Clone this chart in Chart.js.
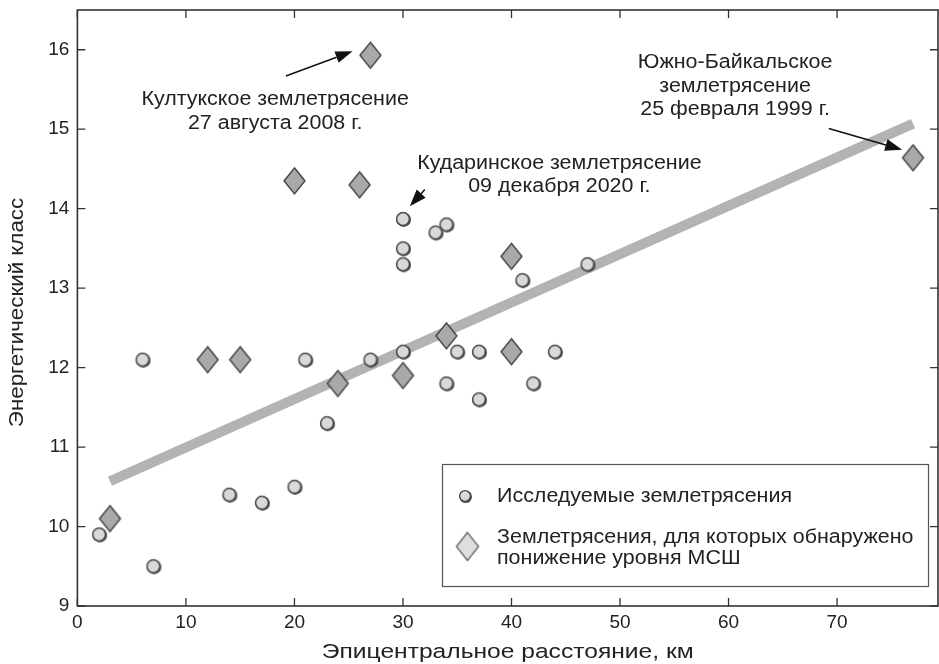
<!DOCTYPE html>
<html><head><meta charset="utf-8">
<script src="https://cdn.jsdelivr.net/npm/chart.js@4.4.0/dist/chart.umd.min.js"></script>
<style>html,body{margin:0;padding:0;background:#fff;overflow:hidden;} canvas{display:block;}</style>
</head><body>
<canvas id="c" width="939" height="664"></canvas>
<script>
// ---- data ----
const circleX = [2, 7, 6, 14, 17, 20, 21, 23, 27, 30, 30, 30, 30, 34, 33, 34, 35, 37, 37, 41, 42, 44, 47];
const circleY = [9.9, 9.5, 12.1, 10.4, 10.3, 10.5, 12.1, 11.3, 12.1, 12.2, 13.3, 13.5, 13.87, 13.8, 13.7, 11.8, 12.2, 12.2, 11.6, 13.1, 11.8, 12.2, 13.3];
const diamondX = [3, 12, 15, 20, 24, 26, 27, 30, 34, 40, 40, 77];
const diamondY = [10.1, 12.1, 12.1, 14.35, 11.8, 14.3, 15.93, 11.9, 12.4, 12.2, 13.4, 14.64];
const trendX = [3, 77];
const trendY = [10.57, 15.07];
const xTicks = [0, 10, 20, 30, 40, 50, 60, 70];
const yTicks = [9, 10, 11, 12, 13, 14, 15, 16];
const xTitle = 'Эпицентральное расстояние, км';
const yTitle = 'Энергетический класс';
const legendLabels = [['Исследуемые землетрясения'], ['Землетрясения, для которых обнаружено', 'понижение уровня МСШ']];
const annotTexts = [
  ['Култукское землетрясение', '27 августа 2008 г.'],
  ['Кударинское землетрясение', '09 декабря 2020 г.'],
  ['Южно-Байкальское', 'землетрясение', '25 февраля 1999 г.']
];
const annotX = [18.22, 44.41, 60.6];
const annotY = [15.3, 14.5, 15.77];
const arrowFromX = [19.21, 32.01, 69.24];
const arrowFromY = [15.67, 14.24, 15.01];
const arrowToX = [25.35, 30.63, 76.0];
const arrowToY = [15.98, 14.03, 14.74];

const FONT = '"Liberation Sans", Arial, Helvetica, sans-serif';
const TXT = '#222';

function makeDiamond(w, h, fill, stroke, lw) {
  const c = document.createElement('canvas');
  c.width = w + 4; c.height = h + 4;
  const g = c.getContext('2d');
  const cx = c.width / 2, cy = c.height / 2;
  g.beginPath();
  g.moveTo(cx, cy - h / 2); g.lineTo(cx + w / 2, cy); g.lineTo(cx, cy + h / 2); g.lineTo(cx - w / 2, cy);
  g.closePath();
  g.fillStyle = fill; g.fill();
  g.lineWidth = lw; g.strokeStyle = stroke; g.stroke();
  return c;
}
function makeCircle(r, fill, stroke, lw) {
  const c = document.createElement('canvas');
  c.width = 2 * r + 6; c.height = 2 * r + 6;
  const g = c.getContext('2d');
  const cx = c.width / 2, cy = c.height / 2;
  g.beginPath(); g.arc(cx + 0.7, cy + 0.7, r, 0, Math.PI * 2); g.fillStyle = '#4a4a4a'; g.fill();
  g.beginPath(); g.arc(cx, cy, r - 0.9, 0, Math.PI * 2);
  g.fillStyle = fill; g.fill();
  g.lineWidth = lw; g.strokeStyle = stroke; g.stroke();
  return c;
}
const diamondImg = makeDiamond(21, 26, '#a9a9a9', '#3a3a3a', 1.3);
const circleImg = makeCircle(7.3, '#d9d9d9', '#4a4a4a', 1.5);
const legDiamond = makeDiamond(22, 28, '#dedede', '#454545', 1.2);
const legCircle = makeCircle(6.3, '#d9d9d9', '#4a4a4a', 1.4);

function arrow(ctx, x1, y1, x2, y2, hl, hw) {
  const a = Math.atan2(y2 - y1, x2 - x1);
  const bx = x2 - hl * Math.cos(a), by = y2 - hl * Math.sin(a);
  ctx.beginPath(); ctx.moveTo(x1, y1); ctx.lineTo(bx, by); ctx.stroke();
  ctx.beginPath(); ctx.moveTo(x2, y2);
  ctx.lineTo(bx + hw / 2 * Math.sin(a), by - hw / 2 * Math.cos(a));
  ctx.lineTo(bx - hw / 2 * Math.sin(a), by + hw / 2 * Math.cos(a));
  ctx.closePath(); ctx.fill();
}
// text with horizontal stretch
function wideText(ctx, t, x, y, sx, align) {
  ctx.save();
  ctx.translate(x, y); ctx.scale(sx, 1);
  ctx.textAlign = align; ctx.fillText(t, 0, 0);
  ctx.restore();
}

const decor = {
  id: 'decor',
  afterDraw(chart) {
    const ctx = chart.ctx, a = chart.chartArea;
    const xs = chart.scales.x, ys = chart.scales.y;
    ctx.save();
    // frame
    ctx.strokeStyle = '#333'; ctx.lineWidth = 1.6;
    ctx.strokeRect(a.left, a.top, a.right - a.left, a.bottom - a.top);
    // inward ticks
    ctx.lineWidth = 1.3;
    ctx.beginPath();
    xTicks.forEach(v => {
      const px = xs.getPixelForValue(v);
      ctx.moveTo(px, a.bottom); ctx.lineTo(px, a.bottom - 8);
      ctx.moveTo(px, a.top); ctx.lineTo(px, a.top + 8);
    });
    yTicks.forEach(v => {
      const py = ys.getPixelForValue(v);
      ctx.moveTo(a.left, py); ctx.lineTo(a.left + 8, py);
      ctx.moveTo(a.right, py); ctx.lineTo(a.right - 8, py);
    });
    ctx.stroke();
    // axis titles
    ctx.fillStyle = TXT; ctx.textBaseline = 'alphabetic';
    ctx.font = '20.5px ' + FONT;
    wideText(ctx, xTitle, (a.left + a.right) / 2, 658, 1.2, 'center');
    ctx.save();
    ctx.translate(23, (a.top + a.bottom) / 2 + 4.5); ctx.rotate(-Math.PI / 2);
    wideText(ctx, yTitle, 0, 0, 1.09, 'center');
    ctx.restore();
    // annotations
    ctx.font = '19.5px ' + FONT;
    annotTexts.forEach((lines, i) => {
      const px = xs.getPixelForValue(annotX[i]);
      const py = ys.getPixelForValue(annotY[i]);
      lines.forEach((t, j) => wideText(ctx, t, px, py + j * 23.5, 1.1, 'center'));
    });
    ctx.strokeStyle = '#111'; ctx.fillStyle = '#111'; ctx.lineWidth = 1.5;
    arrowFromX.forEach((v, i) => {
      arrow(ctx, xs.getPixelForValue(v), ys.getPixelForValue(arrowFromY[i]),
        xs.getPixelForValue(arrowToX[i]), ys.getPixelForValue(arrowToY[i]), 17, 12);
    });
    // legend
    const L = a.right - 496, T = a.bottom - 142, W = 486, H = 122;
    ctx.fillStyle = '#fff'; ctx.fillRect(L, T, W, H);
    ctx.strokeStyle = '#555'; ctx.lineWidth = 1.2; ctx.strokeRect(L + 0.5, T + 0.5, W, H);
    ctx.drawImage(legCircle, L + 23 - legCircle.width / 2, T + 32 - legCircle.height / 2);
    ctx.drawImage(legDiamond, L + 25.5 - legDiamond.width / 2, T + 82.5 - legDiamond.height / 2);
    ctx.fillStyle = TXT; ctx.font = '19.5px ' + FONT;
    wideText(ctx, legendLabels[0][0], L + 55, T + 38, 1.1, 'left');
    wideText(ctx, legendLabels[1][0], L + 55, T + 79, 1.1, 'left');
    wideText(ctx, legendLabels[1][1], L + 55, T + 100, 1.1, 'left');
    ctx.restore();
  }
};

function zeroPad(s) { s.paddingLeft = 0; s.paddingRight = 0; s.paddingTop = 0; s.paddingBottom = 0; }

new Chart(document.getElementById('c'), {
  type: 'scatter',
  data: {
    datasets: [
      { label: 'd', data: diamondX.map((x, i) => ({ x, y: diamondY[i] })), pointStyle: diamondImg, pointRadius: 10, order: 1 },
      { label: 'c', data: circleX.map((x, i) => ({ x, y: circleY[i] })), pointStyle: circleImg, pointRadius: 8, order: 2 },
      { label: 't', type: 'line', data: trendX.map((x, i) => ({ x, y: trendY[i] })), borderColor: '#b3b3b3', borderWidth: 10, borderCapStyle: 'butt', pointRadius: 0, showLine: true, fill: false, order: 3 }
    ]
  },
  options: {
    responsive: false, animation: false, devicePixelRatio: 1,
    layout: { autoPadding: false, padding: { top: 10, right: 1, left: 0, bottom: 0 } },
    plugins: { legend: { display: false }, tooltip: { enabled: false } },
    scales: {
      x: {
        type: 'linear', min: 0, max: 79.3, position: 'bottom',
        afterBuildTicks: s => { s.ticks = xTicks.map(v => ({ value: v })); },
        afterFit: s => { s.height = 58; zeroPad(s); },
        grid: { display: false, drawTicks: false }, border: { display: false },
        ticks: { font: { size: 19, family: FONT }, color: TXT, padding: 5, maxRotation: 0 },
        title: { display: false }
      },
      y: {
        type: 'linear', min: 9, max: 16.5,
        afterBuildTicks: s => { s.ticks = yTicks.map(v => ({ value: v })); },
        afterFit: s => { s.width = 77.4; zeroPad(s); },
        grid: { display: false, drawTicks: false }, border: { display: false },
        ticks: { font: { size: 19, family: FONT }, color: TXT, padding: 8 },
        title: { display: false }
      }
    }
  },
  plugins: [decor]
});
</script>
</body></html>
